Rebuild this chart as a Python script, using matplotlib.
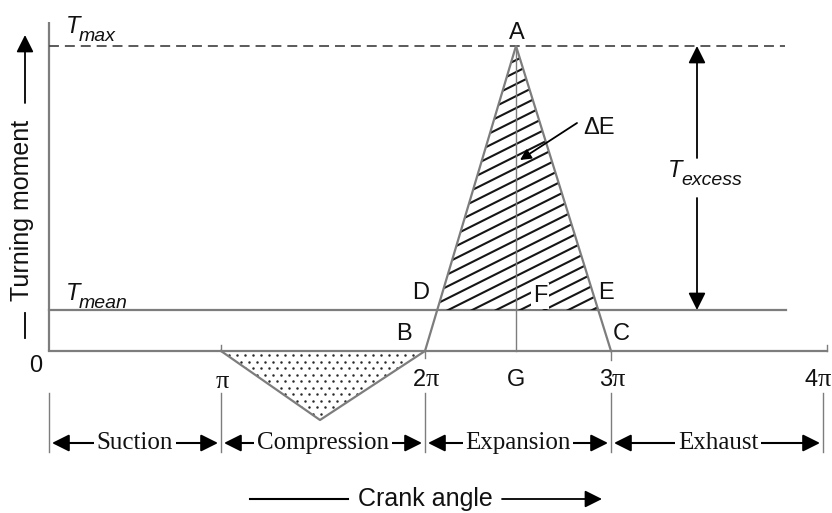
import numpy as np
import matplotlib
matplotlib.use('Agg')
import matplotlib.pyplot as plt
from matplotlib.patches import Polygon
from matplotlib.collections import LineCollection

# ---------------- data (diagram units) ----------------
angle_positions = [0, 172, 376, 562, 776]          # 0, pi, 2pi, 3pi, 4pi as drawn
angle_numbers = ['0', '', '2', '3', '4']
stroke_names = ['Suction', 'Compression', 'Expansion', 'Exhaust']
T_mean = 41
T_max = 305
peak_x = 467                # A and G
compression_min_x = 271
compression_min_y = -69
axis_top = 329
baseline_end = 778
mean_line_end = 737
max_line_end = 736
excess_x = 648

GREY = '#7d7d7d'
INK = '#111111'
SANS = 'Liberation Sans'
SERIF = 'Liberation Serif'

fig = plt.figure(figsize=(8.32, 5.13), dpi=100)
ax = fig.add_axes([0, 0, 1, 1])
ax.set_xlim(-49, 783)
ax.set_ylim(-162, 351)
ax.axis('off')

x0, xpi, x2pi, x3pi, x4pi = angle_positions

# axes lines
ax.plot([0, 0], [0, axis_top], color=GREY, lw=1.6, solid_capstyle='butt')
ax.plot([0, baseline_end], [0, 0], color=GREY, lw=1.6)
ax.plot([0, mean_line_end], [T_mean, T_mean], color=GREY, lw=1.6)
ax.plot([0, max_line_end], [T_max, T_max], color='#4d4d4d', lw=1.3, dashes=[5.5, 3.3])

# small ticks on baseline
ax.plot([xpi, xpi], [0, 6], color=GREY, lw=1.0)
ax.plot([x4pi + 2, x4pi + 2], [0, 6], color=GREY, lw=1.0)
ax.plot([x2pi, x2pi], [0, -7], color=GREY, lw=1.0)
ax.plot([x3pi, x3pi], [0, -9], color=GREY, lw=1.0)

# expansion triangle B-A-C and intersections with T_mean
B = (x2pi, 0)
A = (peak_x, T_max)
C = (x3pi, 0)
D = (B[0] + (A[0] - B[0]) * T_mean / T_max, T_mean)
E = (A[0] + (C[0] - A[0]) * (T_max - T_mean) / T_max, T_mean)

hatch_poly = Polygon([D, A, E], closed=True, facecolor='none', edgecolor='none')
ax.add_patch(hatch_poly)
slope = 0.5
spacing = 12.0
segs = []
for k in range(-40, 40):
    c = T_mean + 4 + k * spacing
    segs.append([(D[0] - 5, c), (E[0] + 5, c + slope * (E[0] - D[0] + 10))])
lc = LineCollection(segs, colors='#151515', linewidths=1.5)
ax.add_collection(lc)
lc.set_clip_path(hatch_poly)

ax.plot([B[0], A[0], C[0]], [B[1], A[1], C[1]], color=GREY, lw=1.6)
ax.plot([peak_x, peak_x], [0, T_max], color=GREY, lw=1.0)

# compression triangle with dots
comp = [(xpi, 0), (compression_min_x, compression_min_y), (x2pi, 0)]
comp_poly = Polygon(comp, closed=True, facecolor='none', edgecolor='none')
ax.add_patch(comp_poly)
pts = []
row = 0
for yy in np.arange(-4, compression_min_y - 5, -6.5):
    off = 4.0 if row % 2 else 0.0
    for xx in np.arange(xpi + off, x2pi, 8.0):
        pts.append((xx, yy))
    row += 1
pts = np.array(pts)
sc = ax.scatter(pts[:, 0], pts[:, 1], s=3.2, color='#2a2a2a', linewidths=0)
sc.set_clip_path(comp_poly)
ax.plot([c[0] for c in comp], [c[1] for c in comp], color=GREY, lw=1.6)

# point labels
lab = dict(fontsize=17, family=SANS, color=INK, ha='center', va='center')
ax.text(A[0] + 1, 318, 'A', **lab)
ax.text(D[0] - 17, 58, 'D', **lab)
ax.text(E[0] + 8, 58, 'E', **lab)
ax.text(491, 55, 'F', bbox=dict(facecolor='white', edgecolor='none', pad=1.5), **lab)
ax.text(355, 17, 'B', **lab)
ax.text(572, 17, 'C', **lab)
ax.text(peak_x, -29, 'G', **lab)

# angle tick labels
ax.text(-13, -15, '0', fontsize=17, family=SANS, ha='center', va='center', color=INK)
for xp, num in zip(angle_positions[1:], angle_numbers[1:]):
    if num:
        shift = -7 if xp == x4pi else 1
        t = ax.text(xp + shift, -29, num, fontsize=17, family=SANS, ha='right', va='center',
                    color=INK)
        ax.annotate('π', xy=(1, 0), xycoords=t, xytext=(0, 0), textcoords='offset points',
                    fontsize=19, family=SERIF, ha='left', va='bottom', color=INK,
                    annotation_clip=False)
    else:
        ax.text(xp + 1, -31, 'π', fontsize=19, family=SERIF, ha='center', va='center',
                color=INK)

# T labels with subscripts
def t_label(x, y, sub):
    t = ax.text(x, y, 'T', fontsize=17, family=SANS, style='italic', ha='left',
                va='baseline', color=INK)
    ax.annotate(sub, xy=(1, 0), xycoords=t, xytext=(-1, -2.5), textcoords='offset points',
                fontsize=14, family=SANS, style='italic', ha='left', va='baseline',
                color=INK)

t_label(17, 318, 'max')
t_label(17, 51, 'mean')
t_label(619, 174, 'excess')

# T_excess arrows
arr = dict(arrowstyle='-|>', color='black', lw=1.3, mutation_scale=26, shrinkA=0, shrinkB=0)
ax.annotate('', xy=(excess_x, T_max), xytext=(excess_x, 193), arrowprops=arr)
ax.annotate('', xy=(excess_x, T_mean), xytext=(excess_x, 153), arrowprops=arr)

# Delta E
ax.text(550, 223, 'ΔE', fontsize=17, family=SANS, ha='center', va='center', color=INK)
ax.annotate('', xy=(471, 191), xytext=(528, 228),
            arrowprops=dict(arrowstyle='-|>', color='black', lw=1.3, mutation_scale=16,
                            shrinkA=0, shrinkB=0))

# y label with arrow
ax.text(-27, 141, 'Turning moment', rotation=90, fontsize=18, family=SANS,
        ha='center', va='center', color=INK)
ax.annotate('', xy=(-24, 316), xytext=(-24, 248), arrowprops=arr)
ax.plot([-24, -24], [13, 38], color='black', lw=1.3)

# stroke section
for xp in angle_positions:
    ax.plot([xp - (2 if xp == x4pi else 0)] * 2, [-42, -101], color=GREY, lw=1.0)
arr2 = dict(arrowstyle='<|-|>', color='black', lw=1.5, mutation_scale=26, shrinkA=0, shrinkB=0)
for i, name in enumerate(stroke_names):
    xa = angle_positions[i] + 3
    xb = angle_positions[i + 1] - 3 - (2 if i == 3 else 0)
    ax.annotate('', xy=(xb, -92), xytext=(xa, -92), arrowprops=arr2)
    ax.text((angle_positions[i] + angle_positions[i + 1]) / 2, -92, name, fontsize=18,
            family=SERIF, ha='center', va='center', color=INK,
            bbox=dict(facecolor='white', edgecolor='none', pad=2), zorder=5)

# crank angle
ax.plot([201, 299], [-148, -148], color='black', lw=1.5)
ax.text(376, -148, 'Crank angle', fontsize=18, family=SANS, ha='center', va='center',
        color=INK)
ax.annotate('', xy=(553, -148), xytext=(453, -148), arrowprops=arr)

fig.savefig('out.png', dpi=100)
